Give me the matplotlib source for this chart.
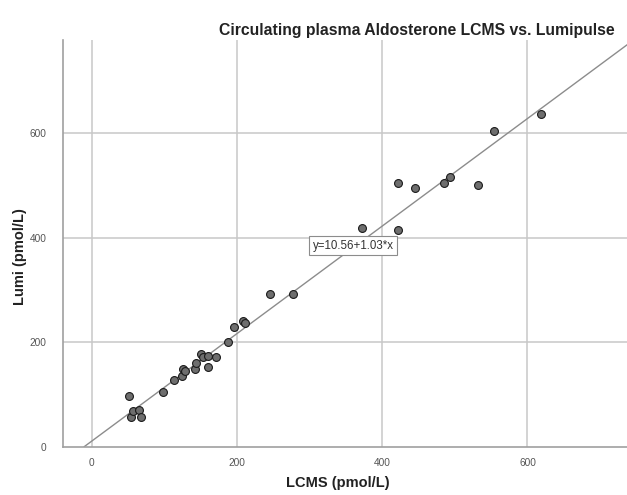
import numpy as np
import matplotlib.pyplot as plt

plt.rcParams['font.family'] = ['Liberation Sans', 'DejaVu Sans']

# LCMS vs Lumipulse aldosterone (pmol/L)
lcms = [51, 54, 57, 65, 68, 98, 114, 124, 125.5, 129, 142.5, 144, 151, 152.6,
        159.5, 160, 171, 188, 196, 208, 211, 246, 277, 372, 422, 422, 445,
        485, 494, 532, 554, 618]
lumi = [97, 56, 68, 70, 56, 105, 128, 135, 148, 145, 148, 161, 178, 171,
        173, 152, 172, 200, 230, 241, 237, 292, 292, 419, 415, 505, 496,
        505, 517, 502, 605, 637]

intercept = 10.56
slope = 1.03
fit_label = "y=10.56+1.03*x"

x_ticks = [0, 200, 400, 600]
y_ticks = [0, 200, 400, 600]

fig = plt.figure(figsize=(6.27, 4.95), dpi=100)
ax = fig.add_axes([0.101, 0.0976, 0.899, 0.8216])

xmin, xmax = -39, 737
ymin, ymax = 0, 779
ax.set_xlim(xmin, xmax)
ax.set_ylim(ymin, ymax)

grid_col = '#c8c8c8'
for t in x_ticks:
    ax.axvline(t, color=grid_col, lw=1.1, zorder=1)
for t in y_ticks[1:]:
    ax.axhline(t, color=grid_col, lw=1.1, zorder=1)

# fit line from y=0 up to the right edge
x0 = -intercept / slope
xs = np.array([x0, xmax])
ax.plot(xs, intercept + slope * xs, color='#8c8c8c', lw=1.0, zorder=2)

ax.scatter(lcms, lumi, s=32, facecolor='#6e6e6e', edgecolor='#1a1a1a',
           linewidth=0.8, zorder=3)

ax.text(360, 385, fit_label, fontsize=8.3, color='#333333', ha='center', va='center',
        bbox=dict(boxstyle='square,pad=0.3', facecolor='white', edgecolor='#8c8c8c', lw=0.8),
        zorder=4)

ax.set_xticks(x_ticks)
ax.set_yticks(y_ticks)
ax.tick_params(length=0, labelsize=7.3, labelcolor='#555555')
ax.tick_params(axis='x', pad=8)
ax.tick_params(axis='y', pad=12)

for side in ['top', 'right']:
    ax.spines[side].set_visible(False)
for side in ['left', 'bottom']:
    ax.spines[side].set_color('#a0a0a0')
    ax.spines[side].set_linewidth(1.2)

fig.text(615 / 627, 1 - 30 / 495, "Circulating plasma Aldosterone LCMS vs. Lumipulse",
         ha='right', va='center', fontsize=11.3, fontweight='bold', color='#222222')
fig.text(338 / 627, 1 - 483 / 495, "LCMS (pmol/L)", ha='center', va='center',
         fontsize=10.5, fontweight='bold', color='#222222')
fig.text(20 / 627, 1 - 257 / 495, "Lumi (pmol/L)", ha='center', va='center',
         rotation=90, fontsize=10.5, fontweight='bold', color='#222222')

fig.savefig('out.png', dpi=100)
